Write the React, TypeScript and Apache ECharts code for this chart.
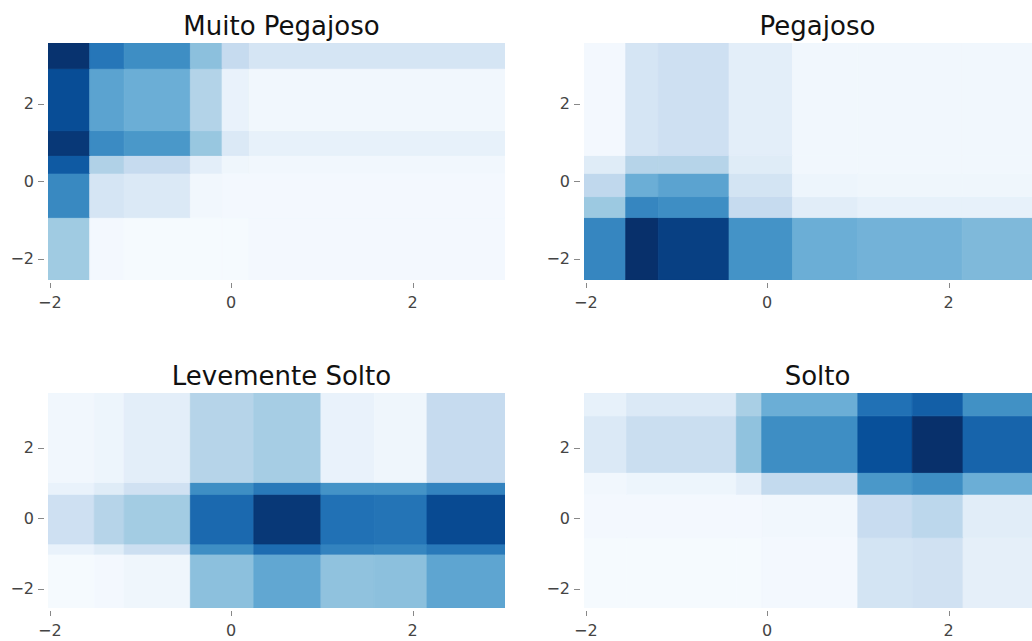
import React, { useEffect, useRef } from 'react';
import * as echarts from 'echarts';

const titles = ['Muito Pegajoso', 'Pegajoso', 'Levemente Solto', 'Solto'];
const tickValues = [-2, 0, 2];
const xRange = [-2.02, 3.02];
const yRange = [-2.55, 3.56];

// Panel 1 — Muito Pegajoso (rows bottom→top, columns left→right)
const xEdges1 = [-2.02, -1.56, -1.18, -0.45, -0.1, 0.2, 3.02];
const yEdges1 = [-2.55, -0.94, 0.2, 0.66, 1.3, 2.9, 3.56];
const z1 = [
  [0.37, 0.02, 0.01, 0.01, 0.01, 0.02],
  [0.66, 0.17, 0.14, 0.03, 0.02, 0.02],
  [0.84, 0.32, 0.25, 0.1, 0.04, 0.03],
  [0.97, 0.65, 0.6, 0.39, 0.14, 0.08],
  [0.89, 0.55, 0.5, 0.31, 0.07, 0.03],
  [0.99, 0.73, 0.64, 0.42, 0.25, 0.17],
];

// Panel 2 — Pegajoso
const xEdges2 = [-2.02, -1.56, -1.2, -0.42, 0.28, 1.0, 2.15, 3.02];
const yEdges2 = [-2.55, -0.94, -0.4, 0.2, 0.66, 3.56];
const z2 = [
  [0.67, 1.0, 0.94, 0.62, 0.5, 0.48, 0.45],
  [0.38, 0.67, 0.64, 0.25, 0.11, 0.08, 0.08],
  [0.27, 0.5, 0.55, 0.18, 0.05, 0.04, 0.04],
  [0.12, 0.3, 0.3, 0.12, 0.03, 0.03, 0.03],
  [0.02, 0.17, 0.21, 0.1, 0.03, 0.03, 0.03],
];

// Panel 3 — Levemente Solto
const xEdges3 = [-2.02, -1.51, -1.18, -0.45, 0.25, 0.99, 1.58, 2.16, 3.02];
const yEdges3 = [-2.55, -1.02, -0.73, 0.68, 1.02, 3.56];
const z3 = [
  [0.01, 0.02, 0.04, 0.42, 0.53, 0.41, 0.42, 0.54],
  [0.07, 0.12, 0.22, 0.64, 0.77, 0.68, 0.67, 0.72],
  [0.21, 0.3, 0.36, 0.78, 0.97, 0.75, 0.74, 0.9],
  [0.07, 0.12, 0.2, 0.64, 0.72, 0.62, 0.62, 0.68],
  [0.03, 0.05, 0.1, 0.3, 0.35, 0.07, 0.04, 0.25],
];

// Panel 4 — Solto
const xEdges4 = [-2.02, -1.55, -0.34, -0.06, 1.0, 1.6, 2.16, 3.02];
const yEdges4 = [-2.55, -0.55, 0.68, 1.3, 2.91, 3.56];
const z4 = [
  [0.01, 0.01, 0.01, 0.02, 0.18, 0.2, 0.09],
  [0.02, 0.02, 0.02, 0.03, 0.24, 0.28, 0.11],
  [0.03, 0.05, 0.1, 0.26, 0.6, 0.64, 0.5],
  [0.14, 0.23, 0.41, 0.64, 0.88, 1.0, 0.8],
  [0.08, 0.14, 0.34, 0.5, 0.75, 0.82, 0.63],
];

const blues = ['#f7fbff', '#deebf7', '#c6dbef', '#9ecae1', '#6baed6', '#4292c6', '#2171b5', '#08519c', '#08306b'];

const panels = [
  { xe: xEdges1, ye: yEdges1, z: z1 },
  { xe: xEdges2, ye: yEdges2, z: z2 },
  { xe: xEdges3, ye: yEdges3, z: z3 },
  { xe: xEdges4, ye: yEdges4, z: z4 },
];

function cells(p: { xe: number[]; ye: number[]; z: number[][] }) {
  const out: number[][] = [];
  for (let r = 0; r < p.z.length; r++) {
    for (let c = 0; c < p.z[r].length; c++) {
      out.push([p.xe[c], p.xe[c + 1], p.ye[r], p.ye[r + 1], p.z[r][c]]);
    }
  }
  return out;
}

const FONT = "'DejaVu Sans', Verdana, sans-serif";

export default function App() {
  const ref = useRef<HTMLDivElement>(null);
  useEffect(() => {
    if (!ref.current) return;
    const chart = echarts.init(ref.current, null, { renderer: 'svg' });
    const grids = [
      { left: 48, top: 43, width: 457, height: 237 },
      { left: 584, top: 43, width: 457, height: 237 },
      { left: 48, top: 393, width: 457, height: 215 },
      { left: 584, top: 393, width: 457, height: 215 },
    ];
    const titleTops = [7.5, 7.5, 357.5, 357.5];
    const fmt = (v: number) => (v < 0 ? '\u2212' + Math.abs(v) : String(v));
    const option: any = {
      animation: false,
      backgroundColor: '#ffffff',
      title: titles.map((t, i) => ({
        text: t,
        left: grids[i].left + grids[i].width / 2,
        top: titleTops[i],
        textAlign: 'center',
        textStyle: { fontFamily: FONT, fontSize: 26, fontWeight: 'normal', color: '#111' },
      })),
      grid: grids.map((g) => ({ ...g, containLabel: false })),
      xAxis: grids.map((_, i) => ({
        type: 'value',
        gridIndex: i,
        min: xRange[0],
        max: xRange[1],
        offset: 3,
        splitLine: { show: false },
        axisLine: { show: false },
        axisTick: { show: false },
        axisLabel: {
          customValues: tickValues,
          formatter: fmt,
          fontFamily: FONT,
          fontSize: 16,
          color: '#444',
          margin: 11,
        },
      })),
      yAxis: grids.map((_, i) => ({
        type: 'value',
        gridIndex: i,
        min: yRange[0],
        max: yRange[1],
        offset: 3,
        splitLine: { show: false },
        axisLine: { show: false },
        axisTick: { show: false },
        axisLabel: {
          customValues: tickValues,
          formatter: fmt,
          fontFamily: FONT,
          fontSize: 16,
          color: '#444',
          margin: 11,
        },
      })),
      visualMap: {
        type: 'continuous',
        show: false,
        min: 0,
        max: 1,
        dimension: 4,
        seriesIndex: [0, 1, 2, 3],
        inRange: { color: blues },
      },
      series: panels.map((p, i) => ({
        type: 'custom',
        xAxisIndex: i,
        yAxisIndex: i,
        clip: true,
        dimensions: ['x0', 'x1', 'y0', 'y1', 'value'],
        encode: { x: [0, 1], y: [2, 3], tooltip: 4 },
        data: cells(p),
        renderItem: (params: any, api: any) => {
          const a = api.coord([api.value(0), api.value(2)]);
          const b = api.coord([api.value(1), api.value(3)]);
          const color = api.visual('color');
          return {
            type: 'rect',
            shape: { x: a[0], y: b[1], width: b[0] - a[0], height: a[1] - b[1] },
            style: { fill: color, stroke: color, lineWidth: 0.8 },
          };
        },
      })),
    };
    chart.setOption(option);

    // Tick marks placed through the axes' own scales
    const ticks: any[] = [];
    grids.forEach((_, i) => {
      tickValues.forEach((v) => {
        const px = chart.convertToPixel({ gridIndex: i } as any, [v, yRange[0]]) as number[];
        const x = Math.round(px[0]) + 0.5;
        ticks.push({
          type: 'line',
          silent: true,
          shape: { x1: x, y1: px[1] + 3, x2: x, y2: px[1] + 8 },
          style: { stroke: '#888', lineWidth: 1 },
        });
        const py = chart.convertToPixel({ gridIndex: i } as any, [xRange[0], v]) as number[];
        const y = Math.round(py[1]) + 0.5;
        ticks.push({
          type: 'line',
          silent: true,
          shape: { x1: py[0] - 10, y1: y, x2: py[0] - 4, y2: y },
          style: { stroke: '#888', lineWidth: 1 },
        });
      });
    });
    chart.setOption({ graphic: ticks });
    return () => chart.dispose();
  }, []);
  return (
    <div style={{ position: 'fixed', left: 0, top: 0, width: 1032, height: 641, overflow: 'hidden', background: '#fff' }}>
      <div ref={ref} style={{ width: 1060, height: 641 }} />
    </div>
  );
}
